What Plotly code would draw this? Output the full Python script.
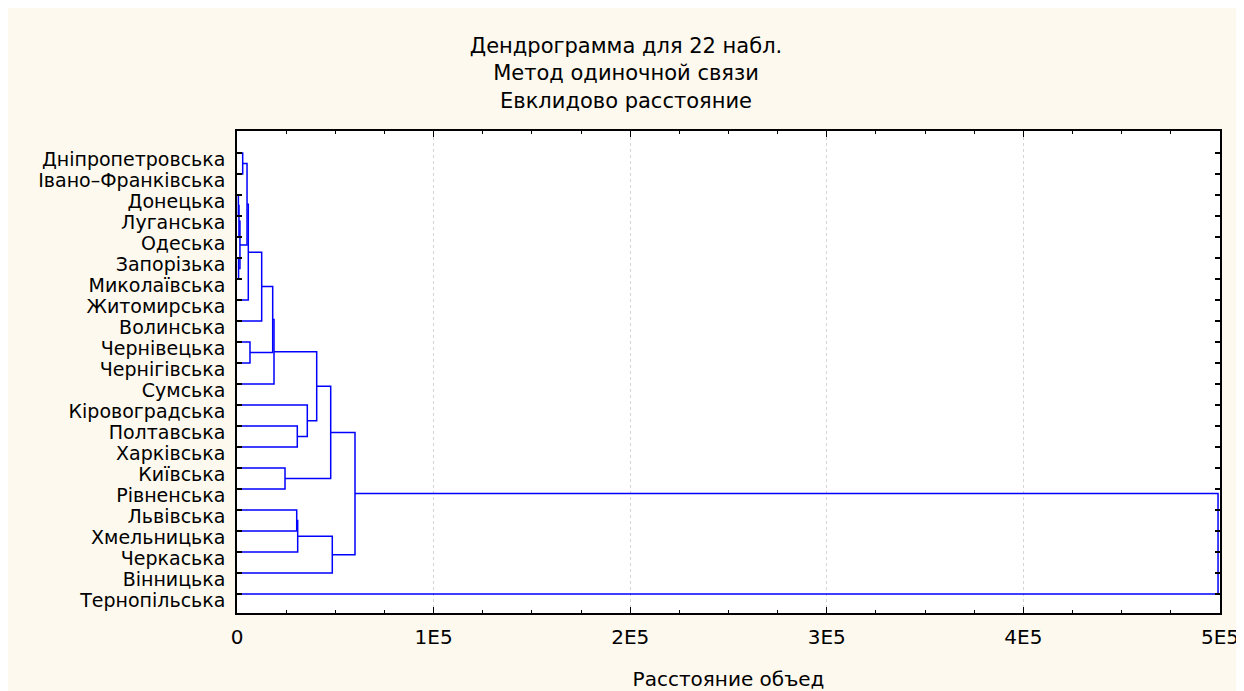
import plotly.graph_objects as go

# ---------------- data ----------------
leaf_labels = [
    "Дніпропетровська", "Івано–Франківська", "Донецька", "Луганська", "Одеська",
    "Запорізька", "Миколаївська", "Житомирська", "Волинська", "Чернівецька",
    "Чернігівська", "Сумська", "Кіровоградська", "Полтавська", "Харківська",
    "Київська", "Рівненська", "Львівська", "Хмельницька", "Черкаська",
    "Вінницька", "Тернопільська",
]
# single-linkage merges (ids >= 22 refer to earlier merges: id = 22 + merge index)
merge_left = [2, 5, 22, 24, 0, 26, 27, 9, 28, 30, 31, 15, 17, 13, 34, 12, 32, 38, 36, 39, 41]
merge_right = [3, 6, 4, 23, 1, 25, 7, 10, 8, 29, 11, 16, 18, 14, 19, 35, 37, 33, 20, 40, 21]
merge_height = [700, 800, 1000, 1500, 2900, 5100, 5750, 6600, 12560, 18160, 18820,
                24420, 30370, 30670, 30870, 35760, 40540, 47660, 48470, 60020, 499000]

x_tick_vals = [0, 100000, 200000, 300000, 400000, 500000]
x_tick_text = ["0", "1E5", "2E5", "3E5", "4E5", "5E5"]

title_lines = ["Дендрограмма для 22 набл.", "Метод одиночной связи", "Евклидово расстояние"]
x_title = "Расстояние объед"

# ---------------- build dendrogram segments ----------------
n = len(leaf_labels)
pos = {i: float(i) for i in range(n)}
hgt = {i: 0.0 for i in range(n)}
xs, ys = [], []
for k, (a, b, h) in enumerate(zip(merge_left, merge_right, merge_height)):
    xs += [hgt[a], h, h, hgt[b], None]
    ys += [pos[a], pos[a], pos[b], pos[b], None]
    cid = n + k
    pos[cid] = (pos[a] + pos[b]) / 2.0
    hgt[cid] = h

FONT = "DejaVu Sans, Liberation Sans, Arial, sans-serif"
BG = "#FDF9EE"
W, H = 1236, 683

fig = go.Figure()
fig.add_trace(go.Scatter(
    x=xs, y=ys, mode="lines",
    line=dict(color="#0000FF", width=1.5),
    hoverinfo="skip", showlegend=False,
))

fig.update_layout(
    width=W, height=H,
    paper_bgcolor=BG, plot_bgcolor="white",
    margin=dict(l=229, r=24, t=123, b=78, autoexpand=False),
    font=dict(family=FONT, size=20, color="black"),
    title=dict(
        text="<br>".join(title_lines),
        x=0.5, xref="container", xanchor="center",
        y=1 - 45 / H, yref="container", yanchor="top",
        font=dict(family=FONT, size=21, color="black"),
    ),
    showlegend=False,
)

fig.update_xaxes(
    range=[0, 500000], automargin=False,
    tickvals=x_tick_vals, ticktext=x_tick_text,
    ticks="inside", ticklen=6, tickwidth=1, tickcolor="black",
    minor=dict(dtick=25000, ticks="inside", ticklen=3, tickwidth=1, tickcolor="black", showgrid=False),
    showline=True, linecolor="black", linewidth=1.5, mirror="ticks",
    showgrid=True, gridcolor="#D4D4D4", griddash="dot", gridwidth=1,
    zeroline=False,
    tickfont=dict(family=FONT, size=20),
    ticklabelstandoff=5,
    title=dict(text=x_title, font=dict(family=FONT, size=20), standoff=25),
)

fig.update_yaxes(
    range=[n - 1 + 0.9, -1.05], automargin=False,
    tickvals=list(range(n)), ticktext=leaf_labels,
    ticks="inside", ticklen=5, tickwidth=1.5, tickcolor="black",
    showline=True, linecolor="black", linewidth=1.5, mirror="ticks",
    showgrid=False, zeroline=False,
    tickfont=dict(family=FONT, size=19),
    ticklabelstandoff=6,
    ticklabelshift=-6,
)

fig.write_html("out.html")
